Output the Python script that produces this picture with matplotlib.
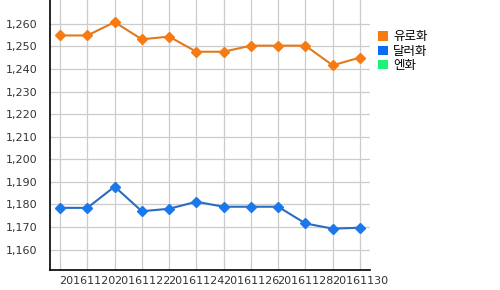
import matplotlib
matplotlib.use("Agg")
import matplotlib.pyplot as plt
from matplotlib.patches import Patch

# data
dates = ["20161119", "20161120", "20161121", "20161122", "20161123", "20161124",
         "20161125", "20161126", "20161127", "20161128", "20161129", "20161130"]
euro = [1254.8, 1254.8, 1260.7, 1253.1, 1254.3, 1247.6,
        1247.6, 1250.3, 1250.3, 1250.3, 1241.6, 1245.0]
dollar = [1178.5, 1178.5, 1187.9, 1177.0, 1178.1, 1181.2,
          1179.0, 1179.0, 1179.0, 1171.6, 1169.3, 1169.7]
yen = []  # no visible points for yen in the picture
series_names = ["유로화", "달러화", "엔화"]
legend_colors = ["#f77b12", "#0a6cf5", "#1ef07c"]
y_ticks = list(range(1160, 1261, 10))

fig = plt.figure(figsize=(5, 2.9), dpi=100)
ax = fig.add_axes([0.1, 0.069, 0.64, 0.931])

x = list(range(len(dates)))
ax.plot(x, euro, color="#e07a1e", linewidth=1.5, marker="D", markersize=5.5,
        markerfacecolor="#f77b12", markeredgecolor="#f77b12", zorder=3)
ax.plot(x, dollar, color="#2a6cc0", linewidth=1.5, marker="D", markersize=5.5,
        markerfacecolor="#1a78ec", markeredgecolor="#1a78ec", zorder=3)

ax.set_xlim(-0.37, len(dates) - 1 + 0.37)
ax.set_ylim(1151, 1270.5)
ax.set_yticks(y_ticks)
ax.set_yticklabels([f"{v:,}" for v in y_ticks])
ax.set_xticks(x)
ax.set_xticklabels([d if i % 2 == 1 else "" for i, d in enumerate(dates)])

ax.tick_params(axis="both", length=0, labelsize=8, colors="#333333", pad=4)
ax.tick_params(axis="y", pad=9)
ax.grid(True, color="#cccccc", linewidth=0.9)
ax.set_axisbelow(True)
for side in ["top", "right"]:
    ax.spines[side].set_visible(False)
ax.spines["left"].set_color("black")
ax.spines["bottom"].set_color("black")
ax.spines["left"].set_linewidth(1.2)
ax.spines["bottom"].set_linewidth(1.2)

handles = [Patch(facecolor=c, edgecolor="none") for c in legend_colors]
fig.legend(handles, series_names, loc="upper left", bbox_to_anchor=(0.756, 0.895),
           frameon=False, prop={"family": ["Noto Sans CJK KR", "DejaVu Sans"], "size": 9},
           handlelength=0.8, handleheight=0.8, handletextpad=0.4,
           labelspacing=0.1, borderaxespad=0, borderpad=0)

fig.savefig("out.png", dpi=100)
